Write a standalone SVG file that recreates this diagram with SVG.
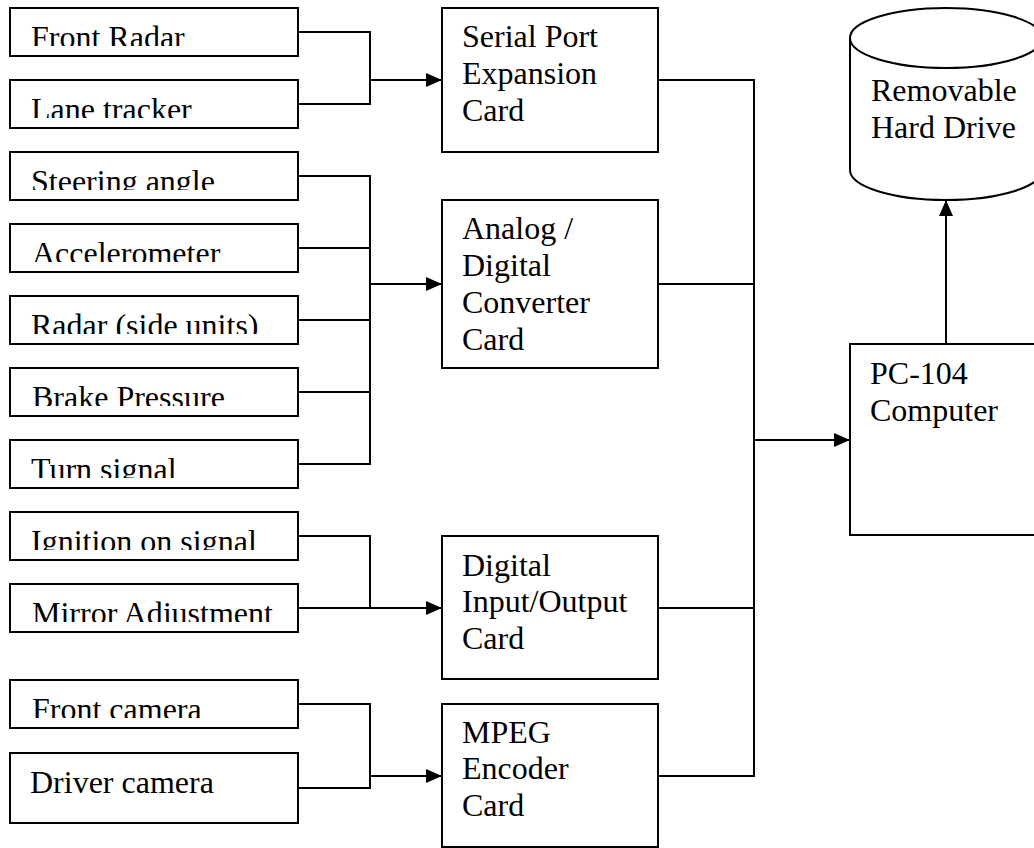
<svg xmlns="http://www.w3.org/2000/svg" width="1034" height="848" viewBox="0 0 1034 848">
<style>
.box{fill:#fff;stroke:#000;stroke-width:2}
.t{font-family:"Liberation Serif","Times New Roman",serif;font-size:32px;fill:#000}
.ln{fill:none;stroke:#000;stroke-width:2}
</style>
<defs>
<marker id="ah" viewBox="0 0 16 14" refX="16" refY="7" markerWidth="16" markerHeight="14" markerUnits="userSpaceOnUse" orient="auto">
<path d="M0,0 L16,7 L0,14 Z" fill="#000"/>
</marker>
<clipPath id="c1"><rect x="10" y="8" width="288" height="38"/></clipPath>
<clipPath id="c2"><rect x="10" y="80" width="288" height="38"/></clipPath>
<clipPath id="c3"><rect x="10" y="152" width="288" height="38"/></clipPath>
<clipPath id="c4"><rect x="10" y="224" width="288" height="38"/></clipPath>
<clipPath id="c5"><rect x="10" y="296" width="288" height="38"/></clipPath>
<clipPath id="c6"><rect x="10" y="368" width="288" height="38"/></clipPath>
<clipPath id="c7"><rect x="10" y="440" width="288" height="38"/></clipPath>
<clipPath id="c8"><rect x="10" y="512" width="288" height="38"/></clipPath>
<clipPath id="c9"><rect x="10" y="584" width="288" height="38"/></clipPath>
<clipPath id="c10"><rect x="10" y="680" width="288" height="38"/></clipPath>
</defs>
<rect width="1034" height="848" fill="#fff"/>

<g id="connectors">
<path class="ln" d="M298,32 H370 V104 H298"/>
<path class="ln" d="M370,80 H442" marker-end="url(#ah)"/>
<path class="ln" d="M298,176 H370 V464 H298 M298,248 H370 M298,320 H370 M298,392 H370"/>
<path class="ln" d="M370,284 H442" marker-end="url(#ah)"/>
<path class="ln" d="M298,536 H370 V608"/>
<path class="ln" d="M298,608 H442" marker-end="url(#ah)"/>
<path class="ln" d="M298,704 H370 V788 H298"/>
<path class="ln" d="M370,776 H442" marker-end="url(#ah)"/>
<path class="ln" d="M658,80 H754 V776 H658 M658,284 H754 M658,608 H754"/>
<path class="ln" d="M754,440 H850" marker-end="url(#ah)"/>
<path class="ln" d="M946,344 V200" marker-end="url(#ah)"/>
</g>

<g id="front-radar"><rect class="box" x="10" y="8" width="288" height="48"/><text class="t" x="31" y="48" clip-path="url(#c1)">Front Radar</text></g>
<g id="lane-tracker"><rect class="box" x="10" y="80" width="288" height="48"/><text class="t" x="31" y="120" clip-path="url(#c2)">Lane tracker</text></g>
<g id="steering-angle"><rect class="box" x="10" y="152" width="288" height="48"/><text class="t" x="31" y="192" clip-path="url(#c3)">Steering angle</text></g>
<g id="accelerometer"><rect class="box" x="10" y="224" width="288" height="48"/><text class="t" x="32" y="264" clip-path="url(#c4)">Accelerometer</text></g>
<g id="radar-side"><rect class="box" x="10" y="296" width="288" height="48"/><text class="t" x="31" y="336" clip-path="url(#c5)">Radar (side units)</text></g>
<g id="brake-pressure"><rect class="box" x="10" y="368" width="288" height="48"/><text class="t" x="32" y="408" clip-path="url(#c6)">Brake Pressure</text></g>
<g id="turn-signal"><rect class="box" x="10" y="440" width="288" height="48"/><text class="t" x="31" y="480" clip-path="url(#c7)">Turn signal</text></g>
<g id="ignition"><rect class="box" x="10" y="512" width="288" height="48"/><text class="t" x="31" y="552" clip-path="url(#c8)">Ignition on signal</text></g>
<g id="mirror"><rect class="box" x="10" y="584" width="288" height="48"/><text class="t" x="32" y="624" clip-path="url(#c9)">Mirror Adjustment</text></g>
<g id="front-camera"><rect class="box" x="10" y="680" width="288" height="48"/><text class="t" x="32" y="720" clip-path="url(#c10)">Front camera</text></g>
<g id="driver-camera"><rect class="box" x="10" y="753" width="288" height="70"/><text class="t" x="30" y="793">Driver camera</text></g>

<g id="serial-card"><rect class="box" x="442" y="8" width="216" height="144"/><text class="t" x="462"><tspan x="462" y="47">Serial Port</tspan><tspan x="462" y="84">Expansion</tspan><tspan x="462" y="121">Card</tspan></text></g>
<g id="ad-card"><rect class="box" x="442" y="200" width="216" height="168"/><text class="t" x="462"><tspan x="462" y="239">Analog /</tspan><tspan x="462" y="276">Digital</tspan><tspan x="462" y="313">Converter</tspan><tspan x="462" y="350">Card</tspan></text></g>
<g id="dio-card"><rect class="box" x="442" y="536" width="216" height="143"/><text class="t" x="462"><tspan x="462" y="576">Digital</tspan><tspan x="462" y="612">Input/Output</tspan><tspan x="462" y="649">Card</tspan></text></g>
<g id="mpeg-card"><rect class="box" x="442" y="704" width="216" height="143"/><text class="t" x="462"><tspan x="462" y="743">MPEG</tspan><tspan x="462" y="779">Encoder</tspan><tspan x="462" y="816">Card</tspan></text></g>

<g id="pc104"><rect class="box" x="850" y="344" width="192" height="191"/><text class="t" x="870"><tspan x="870" y="384">PC-104</tspan><tspan x="870" y="421">Computer</tspan></text></g>
<g id="hard-drive">
<path class="box" d="M850,38 V170 A96,30 0 0 0 1042,170 V38"/>
<ellipse cx="946" cy="38" rx="96" ry="30" fill="#fff" stroke="#000" stroke-width="2"/>
<text class="t" x="871"><tspan x="871" y="101">Removable</tspan><tspan x="871" y="138">Hard Drive</tspan></text>
</g>
</svg>
